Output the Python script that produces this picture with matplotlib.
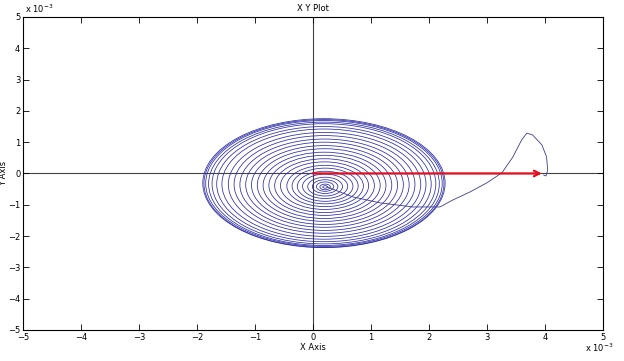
import matplotlib.pyplot as plt
from matplotlib.patches import Ellipse

# values in units of 1e-3
ring_rx = [0.04, 0.09, 0.15, 0.22, 0.30, 0.39, 0.48, 0.57, 0.66, 0.76, 0.86,
           0.96, 1.06, 1.16, 1.26, 1.36, 1.46, 1.56, 1.66, 1.76, 1.85, 1.93,
           1.99, 2.04, 2.07, 2.09]
ring_ry = [0.04, 0.09, 0.15, 0.22, 0.30, 0.39, 0.48, 0.57, 0.66, 0.76, 0.86,
           0.96, 1.06, 1.16, 1.26, 1.36, 1.46, 1.56, 1.66, 1.76, 1.84, 1.92,
           1.97, 2.01, 2.04, 2.06]
ring_cx = [0.21, 0.21, 0.21, 0.21, 0.21, 0.21, 0.21, 0.21, 0.21, 0.20, 0.20,
           0.20, 0.20, 0.20, 0.20, 0.20, 0.20, 0.20, 0.20, 0.19, 0.19, 0.19,
           0.19, 0.19, 0.19, 0.19]
ring_cy = [-0.43, -0.43, -0.42, -0.42, -0.42, -0.41, -0.41, -0.40, -0.40,
           -0.39, -0.39, -0.38, -0.38, -0.37, -0.37, -0.36, -0.36, -0.35,
           -0.35, -0.34, -0.34, -0.33, -0.33, -0.32, -0.32, -0.31]

tail_x = [0.24, 0.69, 1.16, 1.72, 2.19, 2.41, 2.71, 3.00, 3.26, 3.45, 3.60,
          3.69, 3.79, 3.95, 4.03, 4.05, 4.02, 3.98]
tail_y = [-0.43, -0.75, -0.94, -1.07, -1.07, -0.85, -0.59, -0.30, 0.02, 0.53,
          1.07, 1.29, 1.23, 0.91, 0.53, 0.11, -0.08, -0.05]

arrow_start = (0.0, 0.0)
arrow_end = (3.95, 0.0)

ticks = [-5, -4, -3, -2, -1, 0, 1, 2, 3, 4, 5]

fig = plt.figure(figsize=(6.24, 3.61), dpi=100)
ax = fig.add_axes([0.037, 0.086, 0.929, 0.867])

blue = "#2b2ba6"
for cx, cy, rx, ry in zip(ring_cx, ring_cy, ring_rx, ring_ry):
    ax.add_patch(Ellipse((cx, cy), 2 * rx, 2 * ry, fill=False,
                         edgecolor=blue, linewidth=0.55))
ax.plot(tail_x, tail_y, color="#3c3c8c", linewidth=0.6)

ax.axhline(0, color="#444444", linewidth=0.8, zorder=0)
ax.axvline(0, color="#444444", linewidth=0.8, zorder=0)

ax.annotate("", xy=arrow_end, xytext=arrow_start,
            arrowprops=dict(arrowstyle="->", color="#e0101e", lw=1.6,
                            mutation_scale=10, shrinkA=0, shrinkB=0))

ax.set_xlim(-5, 5)
ax.set_ylim(-5, 5)
ax.set_xticks(ticks)
ax.set_yticks(ticks)
ax.tick_params(direction="in", top=True, right=True, labelsize=6,
               length=4, width=0.6, pad=2)
for s in ax.spines.values():
    s.set_linewidth(0.8)

ax.set_title("X Y Plot", fontsize=6, pad=4)
ax.set_xlabel("X Axis", fontsize=6, labelpad=1)
ax.set_ylabel("Y Axis", fontsize=6)
ax.yaxis.set_label_coords(-0.026, 0.5)

fig.text(0.04, 0.965, r"x 10$^{-3}$", fontsize=6)
fig.text(0.937, 0.025, r"x 10$^{-3}$", fontsize=6)

fig.savefig("out.png", dpi=100)
